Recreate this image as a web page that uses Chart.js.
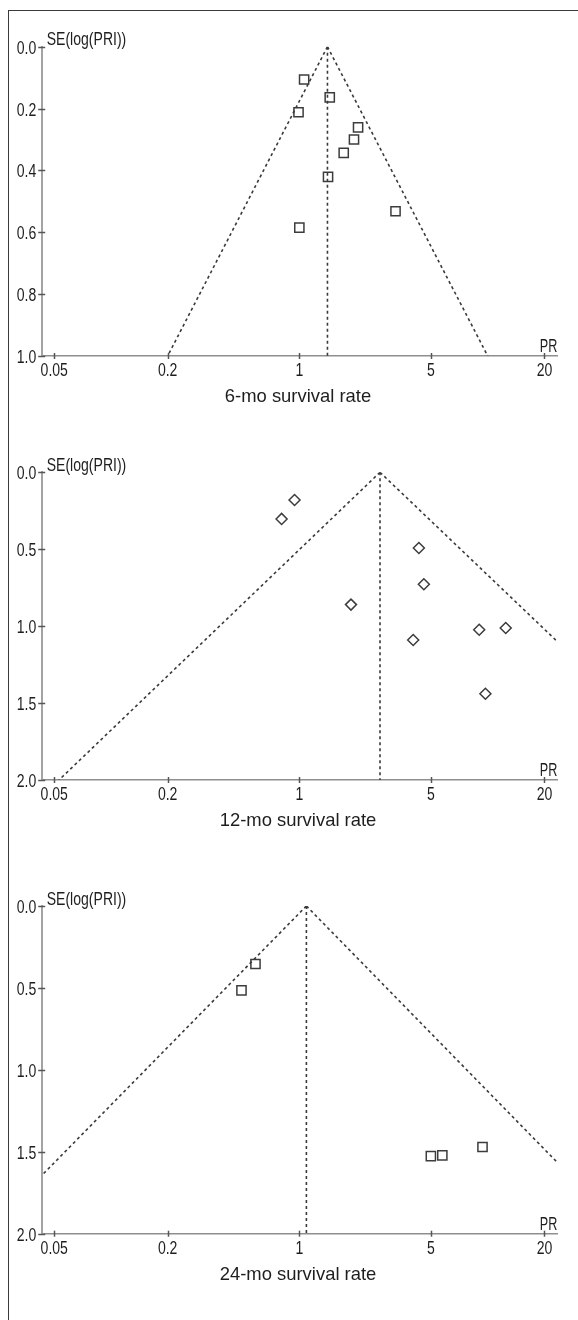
<!DOCTYPE html>
<html>
<head>
<meta charset="utf-8">
<script src="https://cdn.jsdelivr.net/npm/chart.js@4.4.1/dist/chart.umd.min.js"></script>
<style>
html,body{margin:0;padding:0;background:#fff;}
#wrap{position:relative;width:578px;height:1320px;overflow:hidden;background:#fff;}
#frame{position:absolute;left:8px;top:10px;width:600px;height:1400px;border-left:1px solid #3a3a3a;border-top:1px solid #3a3a3a;}
canvas{position:absolute;left:0;}
</style>
</head>
<body>
<div id="wrap">
  <div id="frame"></div>
  <canvas id="c1" width="578" height="420" style="top:0px"></canvas>
  <canvas id="c2" width="578" height="430" style="top:420px"></canvas>
  <canvas id="c3" width="578" height="470" style="top:850px"></canvas>
</div>
<script>
// ---------- data ----------
const xTickValues = [0.05, 0.2, 1, 5, 20];
const xMin = 0.0429;
const xMax = 23.4;

const yTicks6 = [0, 0.2, 0.4, 0.6, 0.8, 1.0];
const yTicks12 = [0, 0.5, 1.0, 1.5, 2.0];
const yTicks24 = [0, 0.5, 1.0, 1.5, 2.0];

// 6-month survival
const pr6 = [1.06, 1.45, 0.99, 2.05, 1.95, 1.72, 1.42, 3.24, 1.00];
const se6 = [0.106, 0.164, 0.212, 0.261, 0.300, 0.343, 0.421, 0.532, 0.585];
const pooledX6 = [1.41, 1.41];
const pooledY6 = [0, 1.0];
const leftX6 = [1.41, 0.20];
const leftY6 = [0, 1.0];
const rightX6 = [1.41, 10.0];
const rightY6 = [0, 1.0];

// 12-month survival
const pr12 = [0.943, 0.805, 4.31, 4.58, 1.88, 9.01, 12.46, 4.02, 9.72];
const se12 = [0.180, 0.303, 0.492, 0.728, 0.860, 1.023, 1.012, 1.090, 1.439];
const pooledX12 = [2.68, 2.68];
const pooledY12 = [0, 2.0];
const leftX12 = [2.68, 0.0530];
const leftY12 = [0, 2.0];
const rightX12 = [2.68, 23.4];
const rightY12 = [0, 1.10];

// 24-month survival
const pr24 = [0.585, 0.493, 4.99, 5.74, 9.38];
const se24 = [0.354, 0.515, 1.526, 1.522, 1.471];
const pooledX24 = [1.09, 1.09];
const pooledY24 = [0, 2.0];
const leftX24 = [1.09, 0.0429];
const leftY24 = [0, 1.645];
const rightX24 = [1.09, 23.4];
const rightY24 = [0, 1.565];

// ---------- helpers ----------
const FONT = "'Liberation Sans', Arial, sans-serif";
const pts = (xs, ys) => xs.map((x, i) => ({x: x, y: ys[i]}));

function condText(ctx, text, x, y, align, sx) {
  ctx.save();
  ctx.translate(x, y);
  ctx.scale(sx, 1);
  ctx.textAlign = align;
  ctx.textBaseline = 'alphabetic';
  ctx.fillText(text, 0, 0);
  ctx.restore();
}

const decor = {
  id: 'decor',
  afterDraw(chart, args, opts) {
    const {ctx, chartArea: a, scales: {x, y}} = chart;
    ctx.save();
    // crossing tick marks
    ctx.strokeStyle = '#555';
    ctx.lineWidth = 1.5;
    x.ticks.forEach(t => {
      const px = Math.round(x.getPixelForValue(t.value)) + 0.5;
      ctx.beginPath(); ctx.moveTo(px, a.bottom - 3); ctx.lineTo(px, a.bottom + 3); ctx.stroke();
    });
    y.ticks.forEach(t => {
      const py = Math.round(y.getPixelForValue(t.value)) + 0.5;
      ctx.beginPath(); ctx.moveTo(a.left - 3.5, py); ctx.lineTo(a.left + 3.5, py); ctx.stroke();
    });
    // tick labels (condensed)
    ctx.fillStyle = '#1e1e1e';
    ctx.font = '18px ' + FONT;
    x.ticks.forEach(t => {
      condText(ctx, String(t.value), x.getPixelForValue(t.value), a.bottom + 20, 'center', 0.78);
    });
    y.ticks.forEach(t => {
      condText(ctx, Number(t.value).toFixed(1), a.left - 5.5, y.getPixelForValue(t.value) + 7, 'right', 0.78);
    });
    // axis labels
    condText(ctx, opts.yLabel, a.left + 5, y.getPixelForValue(0) - 1.5, 'left', 0.78);
    condText(ctx, opts.xLabel, a.right, a.bottom - 4, 'right', 0.7);
    // panel title
    ctx.font = '19px ' + FONT;
    condText(ctx, opts.title, (a.left + a.right) / 2 - 1.5, a.bottom + 46, 'center', 0.97);
    ctx.restore();
  }
};

function makeChart(id, canvasH, areaTop, areaBottom, yMax, yTicks, points, style, radius, vline, lline, rline, title) {
  const dash = {showLine: true, borderDash: [3, 3], borderColor: '#3a3a3a', borderWidth: 1.6, pointRadius: 0, fill: false, tension: 0};
  return new Chart(document.getElementById(id), {
    type: 'scatter',
    data: {
      datasets: [
        Object.assign({data: vline}, dash),
        Object.assign({data: lline}, dash),
        Object.assign({data: rline}, dash),
        {data: points, pointStyle: style, pointRadius: radius, borderColor: '#3c3c3c', borderWidth: 1.5,
         backgroundColor: 'rgba(255,255,255,0)', showLine: false}
      ]
    },
    options: {
      responsive: false,
      animation: false,
      devicePixelRatio: 1,
      layout: {padding: {top: areaTop, right: 578 - 557.3, left: 0, bottom: 0}},
      plugins: {
        legend: {display: false},
        tooltip: {enabled: false},
        decor: {yLabel: 'SE(log(PRI))', xLabel: 'PR', title: title}
      },
      scales: {
        x: {
          type: 'logarithmic', position: 'bottom', min: xMin, max: xMax,
          afterBuildTicks: s => { s.ticks = xTickValues.map(v => ({value: v})); },
          afterFit: s => { s.height = canvasH - areaBottom; },
          ticks: {display: false, autoSkip: false},
          grid: {display: false, drawTicks: false},
          border: {display: true, color: '#8f8f8f', width: 1.5}
        },
        y: {
          type: 'linear', reverse: true, min: 0, max: yMax,
          afterBuildTicks: s => { s.ticks = yTicks.map(v => ({value: v})); },
          afterFit: s => { s.width = 41.7; },
          ticks: {display: false},
          grid: {display: false, drawTicks: false},
          border: {display: true, color: '#a3a3a3', width: 2}
        }
      }
    },
    plugins: [decor]
  });
}

makeChart('c1', 420, 46.7, 356, 1.0, yTicks6, pts(pr6, se6), 'rect', 6.5,
  pts(pooledX6, pooledY6), pts(leftX6, leftY6), pts(rightX6, rightY6), '6-mo survival rate');
makeChart('c2', 430, 52.3, 360, 2.0, yTicks12, pts(pr12, se12), 'rectRot', 5.5,
  pts(pooledX12, pooledY12), pts(leftX12, leftY12), pts(rightX12, rightY12), '12-mo survival rate');
makeChart('c3', 470, 56, 383.7, 2.0, yTicks24, pts(pr24, se24), 'rect', 6.5,
  pts(pooledX24, pooledY24), pts(leftX24, leftY24), pts(rightX24, rightY24), '24-mo survival rate');
</script>
</body>
</html>
